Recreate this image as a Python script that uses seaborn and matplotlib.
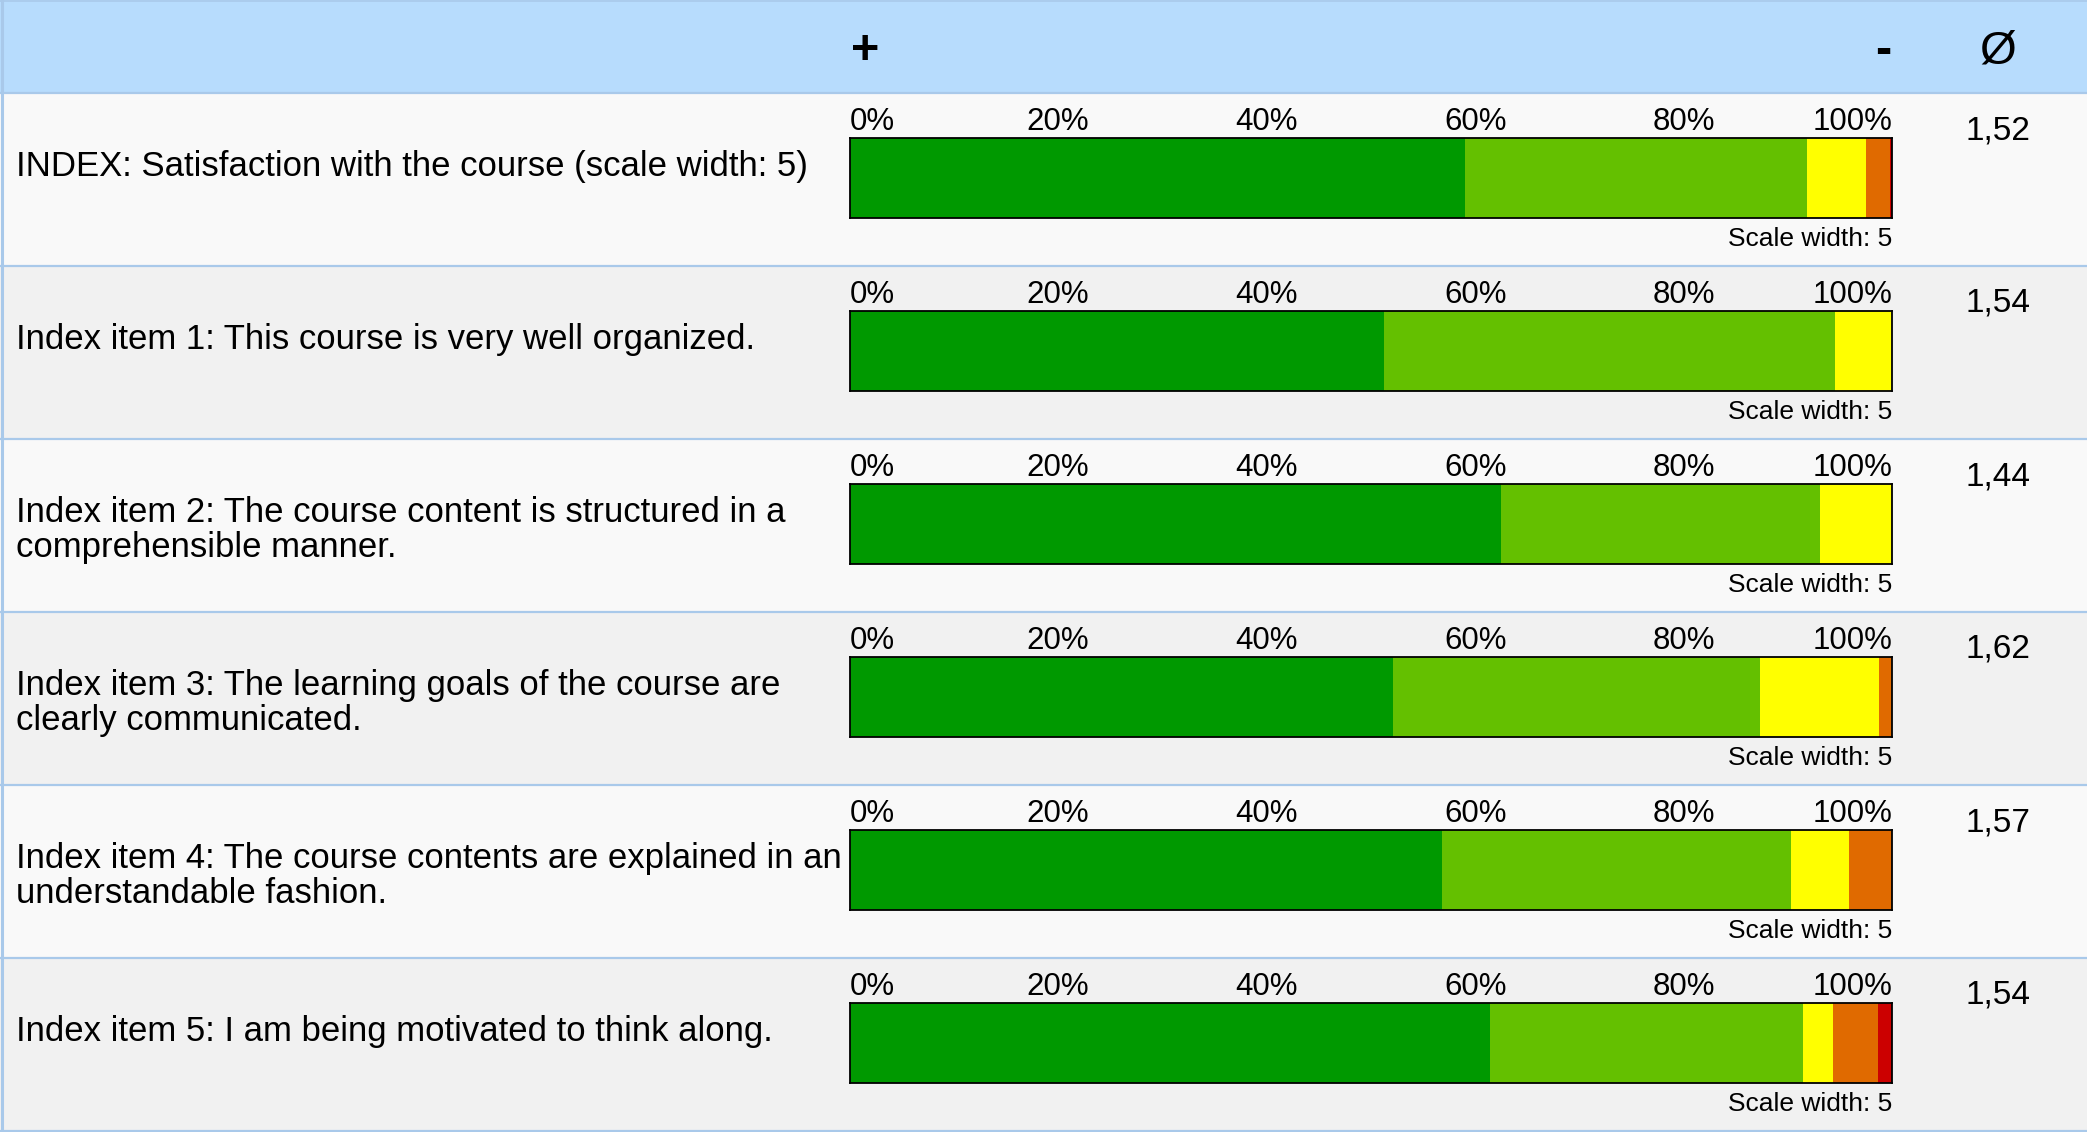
import numpy as np
import pandas as pd
import matplotlib
matplotlib.use("Agg")
import matplotlib.pyplot as plt
from matplotlib.patches import Rectangle
import seaborn as sns

# ---- data -------------------------------------------------------------
items = [
    "INDEX: Satisfaction with the course (scale width: 5)",
    "Index item 1: This course is very well organized.",
    "Index item 2: The course content is structured in a\ncomprehensible manner.",
    "Index item 3: The learning goals of the course are\nclearly communicated.",
    "Index item 4: The course contents are explained in an\nunderstandable fashion.",
    "Index item 5: I am being motivated to think along.",
]
# share of answers per scale point (1 = best ... 5 = worst), in percent
share_1 = [59.0, 51.3, 62.5, 52.1, 56.8, 61.4]
share_2 = [32.8, 43.2, 30.6, 35.2, 33.5, 30.0]
share_3 = [5.7, 5.5, 6.9, 11.4, 5.5, 2.9]
share_4 = [2.25, 0.0, 0.0, 1.3, 4.2, 4.3]
share_5 = [0.25, 0.0, 0.0, 0.0, 0.0, 1.4]
means = [1.52, 1.54, 1.44, 1.62, 1.57, 1.54]
scale_width = 5
tick_values = [0, 20, 40, 60, 80, 100]
tick_labels = ["0%", "20%", "40%", "60%", "80%", "100%"]
header_plus, header_minus, header_mean = "+", "-", "Ø"

# ---- styling ----------------------------------------------------------
sns.set_theme(style="white")
plt.rcParams["font.family"] = ["Liberation Sans", "DejaVu Sans"]
plt.rcParams["text.color"] = "black"

scale_colors = ["#009900", "#64c000", "#ffff00", "#e06a00", "#cc0000"]
header_bg = "#b7dcfd"
row_bgs = ["#f9f9f9", "#f1f1f1"]
rule_color = "#a9c9ea"

W, H = 2087, 1132
HEADER_H = 93
ROW_H = 173
BAR_X0, BAR_X1 = 849.5, 1892.3
BAR_TOP, BAR_H = 45, 80

fig = plt.figure(figsize=(W / 100, H / 100), dpi=100)
bg = fig.add_axes([0, 0, 1, 1])
bg.set_xlim(0, W)
bg.set_ylim(H, 0)
bg.axis("off")

# header band and row stripes
bg.add_patch(Rectangle((0, 0), W, HEADER_H, facecolor=header_bg, edgecolor="none"))
for i in range(len(items)):
    bg.add_patch(Rectangle((0, HEADER_H + i * ROW_H), W, ROW_H,
                           facecolor=row_bgs[i % 2], edgecolor="none"))
for i in range(len(items) + 1):
    bg.axhline(HEADER_H + i * ROW_H, color=rule_color, lw=1.6)
bg.axhline(0.8, color=rule_color, lw=1.2)
bg.axvline(1.5, color=rule_color, lw=2.2)

# header symbols
bg.text(865, 64, header_plus, ha="center", va="baseline", fontsize=35, fontweight="bold")
bg.text(1883, 64, header_minus, ha="center", va="baseline", fontsize=35, fontweight="bold")
bg.text(1998, 64, header_mean, ha="center", va="baseline", fontsize=34)

shares = np.array([share_1, share_2, share_3, share_4, share_5])
cumulative = np.cumsum(shares, axis=0)

for i, label in enumerate(items):
    top = HEADER_H + i * ROW_H

    for j, line in enumerate(label.split("\n")):
        bg.text(16, top + 83 + 35 * j, line, ha="left", va="baseline", fontsize=25)

    bg.text(1998, top + 46, f"{means[i]:.2f}".replace(".", ","),
            ha="center", va="baseline", fontsize=24)
    bg.text(BAR_X1, top + 153, f"Scale width: {scale_width}",
            ha="right", va="baseline", fontsize=19)

    ax = fig.add_axes([BAR_X0 / W, 1 - (top + BAR_TOP + BAR_H) / H,
                       (BAR_X1 - BAR_X0) / W, BAR_H / H])
    # stacked bar: draw cumulative totals from the widest down
    for k in range(len(scale_colors) - 1, -1, -1):
        df = pd.DataFrame({"item": [label], "value": [cumulative[k, i]]})
        sns.barplot(data=df, x="value", y="item", orient="h", color=scale_colors[k],
                    saturation=1, width=1.0, errorbar=None, linewidth=0, ax=ax)
    ax.set_xlim(0, 100)
    ax.set_ylim(0.5, -0.5)
    ax.set_xlabel("")
    ax.set_ylabel("")
    ax.set_yticks([])
    ax.xaxis.tick_top()
    ax.set_xticks(tick_values, tick_labels)
    ax.tick_params(axis="x", length=0, pad=0.8, labelsize=22.5, colors="black")
    labs = ax.get_xticklabels()
    labs[0].set_ha("left")
    labs[-1].set_ha("right")
    for s in ax.spines.values():
        s.set_visible(True)
        s.set_color("black")
        s.set_linewidth(1.3)

fig.savefig("out.png", dpi=100)
